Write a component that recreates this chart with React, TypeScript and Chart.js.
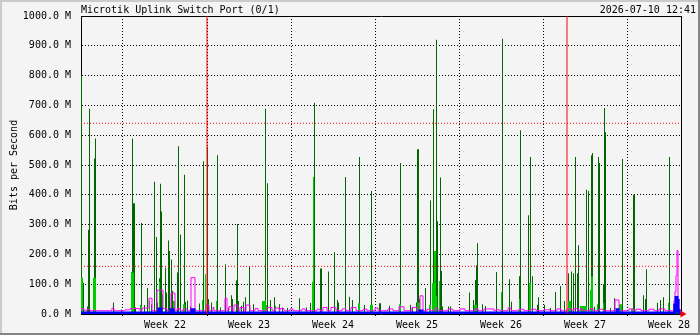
import React, { useEffect, useRef } from 'react';
import { Chart, registerables } from 'chart.js';

Chart.register(...registerables);

const TITLE = 'Microtik Uplink Switch Port (0/1)';
const TIMESTAMP = '2026-07-10 12:41';
const Y_TITLE = 'Bits per Second';

// time axis: 600 samples of 2 hours each
const SAMPLE_COUNT = 600;
const HOURS_PER_SAMPLE = 2;
const SPAN_HOURS = SAMPLE_COUNT * HOURS_PER_SAMPLE;

const WEEK_LABELS = ['Week 22', 'Week 23', 'Week 24', 'Week 25', 'Week 26', 'Week 27', 'Week 28'];
const WEEK_MID_HOURS = [168, 336, 504, 672, 840, 1008, 1176];
const MONTH_START_HOURS = [252, 972];
const ALERT_LEVELS_M = [640, 160];
const Y_MAX_M = 1000;
const Y_STEP_M = 100;

// [sample index, Mbit/s] peak inbound
const maxInSpikes: [number, number][] = [
  [1, 800], [3, 105], [7, 25], [8, 283], [9, 689], [14, 522], [15, 589], [33, 39], [41, 15], [51, 140],
  [52, 589], [53, 372], [54, 372], [55, 22], [60, 30], [61, 305], [64, 30], [67, 87], [71, 33], [74, 444],
  [76, 258], [77, 39], [79, 120], [80, 437], [81, 344], [82, 61], [85, 156], [86, 72], [88, 247], [89, 211],
  [91, 183], [92, 78], [97, 139], [98, 563],
  [100, 267], [104, 467], [105, 40], [107, 45], [110, 25], [119, 35], [123, 513], [127, 560], [128, 50],
  [131, 39], [137, 533], [140, 22], [145, 167], [148, 22], [151, 63], [152, 50], [156, 113], [157, 302],
  [158, 44], [161, 28], [163, 41], [165, 56], [169, 159], [173, 33], [183, 28], [185, 689], [187, 439],
  [190, 47], [194, 56], [199, 33],
  [202, 22], [207, 20], [219, 53], [226, 22], [230, 37], [232, 22], [233, 364], [234, 709], [240, 153],
  [241, 153], [248, 143], [254, 207], [257, 47], [258, 39], [265, 460], [269, 58], [272, 47], [279, 527],
  [284, 30], [291, 413], [299, 36],
  [300, 36], [309, 28], [319, 22], [320, 507], [330, 31], [332, 22], [336, 39], [337, 553], [338, 553],
  [339, 50], [345, 87], [350, 381], [353, 687], [356, 920], [357, 311], [360, 458], [361, 144], [362, 25],
  [368, 25], [370, 25], [389, 72], [393, 47], [395, 114], [396, 164], [397, 237],
  [402, 33], [405, 27], [416, 141], [422, 924], [429, 117], [431, 41], [439, 127], [440, 617], [448, 331],
  [450, 527], [452, 127], [457, 31], [458, 56], [464, 31], [470, 20], [475, 74], [480, 94], [484, 44],
  [488, 137], [491, 143], [493, 137], [495, 527], [497, 137], [498, 231],
  [506, 417], [508, 413], [511, 533], [512, 540], [514, 24], [518, 527], [519, 507], [523, 100], [524, 691],
  [525, 610], [530, 20], [534, 53], [542, 520], [553, 400], [554, 400], [563, 63], [565, 50], [566, 150],
  [577, 38], [580, 47], [583, 56], [589, 527], [593, 33], [596, 22], [597, 17],
];

// [sample index, Mbit/s] average inbound
const avgInSpikes: [number, number][] = [
  [1, 122], [2, 122], [13, 122], [14, 122], [15, 122], [51, 139], [52, 139], [53, 139], [60, 28], [61, 28],
  [69, 45], [79, 108], [82, 67], [93, 44], [94, 44], [103, 33], [104, 33], [122, 47], [125, 133], [136, 44],
  [182, 44], [183, 44], [184, 44], [185, 44], [186, 30], [195, 28], [232, 108], [233, 460], [278, 36],
  [279, 36], [290, 31], [291, 31], [292, 31], [319, 33], [320, 33], [337, 39], [338, 39], [339, 39],
  [349, 31], [350, 31], [352, 103], [353, 103], [354, 211], [355, 211], [356, 60], [359, 111], [394, 31],
  [395, 31], [396, 31], [421, 74], [439, 50], [449, 104], [450, 104], [488, 44], [489, 44], [490, 44],
  [500, 27], [501, 27], [502, 27], [503, 27], [504, 27], [505, 27], [506, 27], [510, 81], [511, 126],
  [512, 126], [517, 33], [523, 38], [539, 33], [540, 33], [541, 33], [551, 17], [552, 17], [553, 17], [588, 38],
];
const AVG_IN_BASE = 2;
const MAX_IN_BASE = 0;

// [first sample, last sample, Mbit/s] peak outbound
const maxOutRuns: [number, number, number][] = [
  [1, 3, 18], [7, 9, 16], [32, 33, 20], [45, 49, 14], [50, 59, 18], [62, 68, 20], [69, 71, 53], [77, 82, 80],
  [83, 86, 18], [91, 94, 70], [97, 99, 18], [103, 106, 17], [111, 114, 122], [126, 128, 30], [133, 133, 22],
  [145, 146, 53], [149, 151, 25], [154, 157, 30], [160, 163, 22], [166, 169, 30], [175, 177, 18],
  [187, 191, 22], [195, 198, 20], [200, 203, 18], [210, 212, 17], [222, 224, 17], [237, 239, 16],
  [243, 246, 22], [251, 255, 22], [262, 265, 17], [271, 275, 22], [283, 286, 16], [295, 297, 20],
  [308, 312, 17], [319, 323, 24], [332, 336, 22], [340, 342, 61], [347, 349, 16], [355, 357, 20],
  [368, 372, 16], [380, 384, 17], [395, 397, 18], [404, 413, 17], [416, 419, 14], [428, 430, 20],
  [439, 443, 16], [451, 455, 16], [464, 469, 14], [477, 480, 17], [487, 491, 17], [494, 497, 18],
  [500, 502, 17], [510, 512, 18], [519, 522, 16], [535, 538, 47], [549, 552, 17], [556, 560, 16],
  [569, 573, 16], [579, 584, 17], [594, 594, 44], [595, 595, 75], [596, 596, 128], [597, 597, 213], [598, 598, 50],
];
const MAX_OUT_BASE = 11;

// [first sample, last sample, Mbit/s] average outbound
const avgOutRuns: [number, number, number][] = [
  [79, 80, 17], [91, 92, 14], [112, 113, 14], [340, 341, 10], [537, 537, 14],
  [595, 595, 30], [596, 596, 55], [597, 597, 45], [598, 598, 12],
];
const AVG_OUT_BASE = 3;

const FONT = { family: "'DejaVu Sans Mono', monospace", size: 10 };
const NONE = 'rgba(0,0,0,0)';

function fromSpikes(spikes: [number, number][], base: number) {
  const vals: number[] = new Array(SAMPLE_COUNT).fill(base);
  spikes.forEach(([i, v]) => { vals[i] = Math.max(vals[i], v); });
  return toPoints(vals);
}
function fromRuns(runs: [number, number, number][], base: number) {
  const vals: number[] = new Array(SAMPLE_COUNT).fill(base);
  runs.forEach(([a, b, v]) => { for (let i = a; i <= b; i++) vals[i] = v; });
  return toPoints(vals);
}
function toPoints(vals: number[]) {
  const pts = vals.map((v, i) => ({ x: i * HOURS_PER_SAMPLE, y: v }));
  pts.push({ x: SPAN_HOURS, y: vals[vals.length - 1] });
  return pts;
}

const framePlugin = {
  id: 'frame',
  beforeDraw(chart: any) {
    const { ctx, width, height } = chart;
    ctx.save();
    ctx.fillStyle = '#f4f4f4';
    ctx.fillRect(0, 0, width, height);
    ctx.fillStyle = '#cbcbcb';
    ctx.fillRect(0, 0, width, 2);
    ctx.fillRect(0, 0, 2, height);
    ctx.fillStyle = '#858585';
    ctx.fillRect(0, height - 2, width, 2);
    ctx.fillRect(width - 2, 0, 2, height);
    ctx.restore();
  },
};

export default function App() {
  const ref = useRef<HTMLCanvasElement | null>(null);
  useEffect(() => {
    if (!ref.current) return;
    const area = (data: any, color: string, order: number) => ({
      type: 'line',
      data,
      borderColor: NONE,
      backgroundColor: color,
      borderWidth: 0,
      fill: 'origin',
      stepped: 'after',
      pointRadius: 0,
      order,
    });
    const line = (data: any, color: string, order: number, width: number) => ({
      type: 'line',
      data,
      borderColor: color,
      backgroundColor: color,
      borderWidth: width,
      fill: false,
      stepped: 'after',
      pointRadius: 0,
      order,
    });
    const datasets: any[] = [
      area(fromSpikes(maxInSpikes, MAX_IN_BASE), '#006600', 10),
      area(fromSpikes(avgInSpikes, AVG_IN_BASE), '#00cc00', 9),
      line(fromRuns(maxOutRuns, MAX_OUT_BASE), '#ff00ff', 8, 1),
      line(fromRuns(avgOutRuns, AVG_OUT_BASE), '#0000ff', 7, 3),
      ...ALERT_LEVELS_M.map((v) => ({
        type: 'line',
        data: [{ x: 0, y: v }, { x: SPAN_HOURS, y: v }],
        borderColor: '#ff0000',
        borderWidth: 1,
        borderDash: [1, 2],
        pointRadius: 0,
        fill: false,
        order: 2,
      })),
      ...MONTH_START_HOURS.map((h) => ({
        type: 'line',
        data: [{ x: h, y: 0 }, { x: h, y: Y_MAX_M }],
        borderColor: '#ff0000',
        borderWidth: 1,
        pointRadius: 0,
        fill: false,
        order: 1,
      })),
      {
        type: 'scatter',
        data: [{ x: SPAN_HOURS + 3, y: 0 }],
        pointStyle: 'triangle',
        rotation: 90,
        radius: 4,
        backgroundColor: '#ff0000',
        borderColor: '#ff0000',
        borderWidth: 0,
        clip: false,
        order: 0,
      },
    ];
    const chart = new Chart(ref.current, {
      type: 'line',
      data: { datasets },
      plugins: [framePlugin],
      options: {
        responsive: false,
        animation: false,
        events: [],
        layout: { padding: { left: 0, top: 0, right: 19, bottom: 0 } },
        plugins: { legend: { display: false }, tooltip: { enabled: false } },
        scales: {
          x: {
            type: 'linear',
            position: 'bottom',
            min: 0,
            max: SPAN_HOURS,
            afterBuildTicks: (s: any) => { s.ticks = WEEK_MID_HOURS.map((v) => ({ value: v })); },
            afterFit: (s: any) => { s.height = 21; },
            ticks: {
              autoSkip: false,
              maxRotation: 0,
              color: '#000',
              font: FONT,
              padding: 3,
              callback: (_v: any, i: number) => WEEK_LABELS[i],
            },
            grid: {
              offset: true,
              color: '#000',
              lineWidth: 1,
              drawTicks: true,
              tickLength: 2,
              tickColor: '#000',
              tickBorderDash: [],
            },
            border: { display: true, color: '#000', width: 1, dash: [1, 2] },
          },
          x2: {
            type: 'linear',
            position: 'top',
            min: 0,
            max: SPAN_HOURS,
            afterBuildTicks: (s: any) => { s.ticks = [{ value: SPAN_HOURS }]; },
            afterFit: (s: any) => { s.height = 14; },
            ticks: {
              autoSkip: false,
              maxRotation: 0,
              align: 'end',
              labelOffset: 15,
              padding: 0,
              color: '#000',
              font: FONT,
              callback: () => TIMESTAMP,
            },
            grid: { display: false, drawTicks: false },
            border: { display: true, color: '#000', width: 1 },
            title: { display: true, text: TITLE, align: 'start', color: '#000', font: FONT, padding: { top: 2, bottom: 0 } },
          },
          y: {
            type: 'linear',
            position: 'left',
            min: 0,
            max: Y_MAX_M,
            afterFit: (s: any) => { s.width = 81; },
            ticks: {
              stepSize: Y_STEP_M,
              color: '#000',
              font: FONT,
              padding: 10,
              callback: (v: any) => Number(v).toFixed(1) + ' M',
            },
            grid: { color: '#000', lineWidth: 1, drawTicks: false },
            border: { display: true, color: '#000', width: 1, dash: [1, 2] },
            title: { display: true, text: Y_TITLE, color: '#000', font: FONT, padding: { top: 8, bottom: 0 } },
          },
          y2: {
            type: 'linear',
            position: 'right',
            min: 0,
            max: Y_MAX_M,
            afterFit: (s: any) => { s.width = 0; },
            ticks: { display: false, stepSize: Y_STEP_M },
            grid: { display: false, drawTicks: false },
            border: { display: true, color: '#000', width: 1 },
          },
        },
      },
    } as any);
    return () => chart.destroy();
  }, []);
  return (
    <div style={{ position: 'absolute', left: 0, top: 0, width: 700, height: 335 }}>
      <canvas ref={ref} width={700} height={335} />
    </div>
  );
}
